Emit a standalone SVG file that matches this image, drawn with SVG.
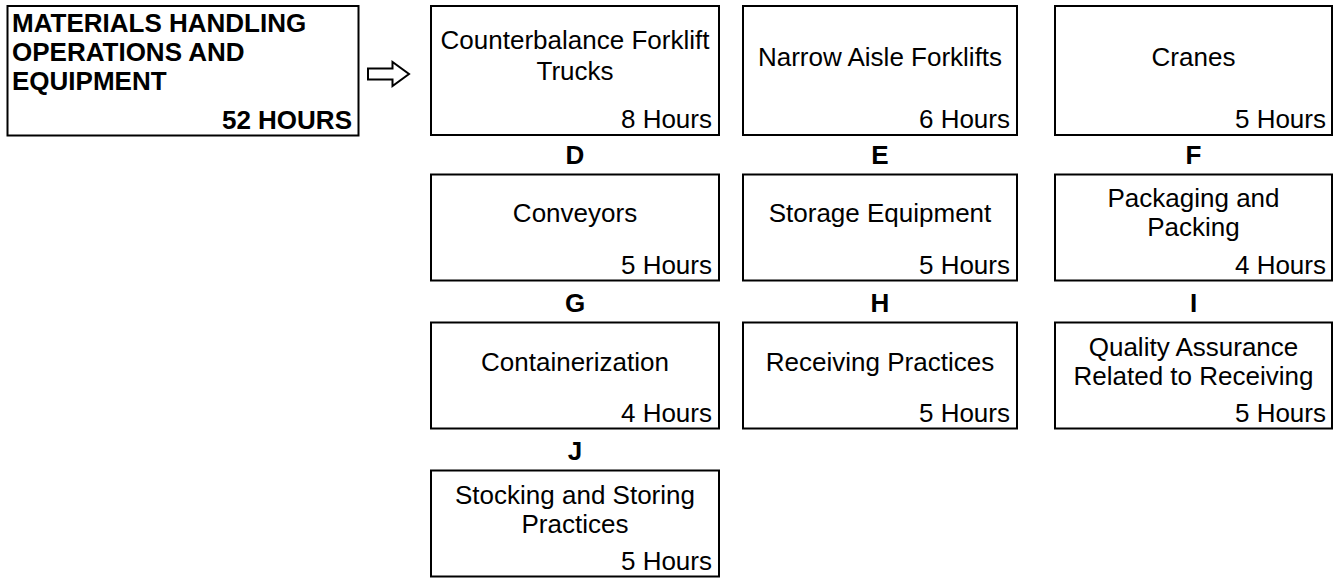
<svg xmlns="http://www.w3.org/2000/svg" width="1339" height="578" viewBox="0 0 1339 578">
<style>
  .box { fill: #ffffff; stroke: #000000; stroke-width: 2; }
  .t { font-family: "Liberation Sans", Arial, sans-serif; font-size: 26px; fill: #000000; }
  .c { text-anchor: middle; }
  .r { text-anchor: end; }
  .b { font-weight: bold; }
  .arrow { fill: #ffffff; stroke: #000000; stroke-width: 2; stroke-linejoin: miter; }
</style>
<rect x="0" y="0" width="1339" height="578" fill="#ffffff"/>

<g id="main">
  <rect class="box" x="7.5" y="6" width="351" height="129.5"/>
  <text class="t b" x="12" y="32">MATERIALS HANDLING</text>
  <text class="t b" x="12" y="61">OPERATIONS AND</text>
  <text class="t b" x="12" y="90">EQUIPMENT</text>
  <text class="t b r" x="352" y="129">52 HOURS</text>
</g>

<g id="connectors">
  <path class="arrow" d="M368,68.5 H392.5 V62 L409,74 L392.5,86 V79.5 H368 Z"/>
</g>

<g id="node-counterbalance">
  <rect class="box" x="431" y="6" width="288" height="129"/>
  <text class="t c" x="575" y="49">Counterbalance Forklift</text>
  <text class="t c" x="575" y="80">Trucks</text>
  <text class="t r" x="712" y="128">8 Hours</text>
</g>

<g id="node-narrow-aisle">
  <rect class="box" x="743" y="6" width="274" height="129"/>
  <text class="t c" x="880" y="66">Narrow Aisle Forklifts</text>
  <text class="t r" x="1010" y="128">6 Hours</text>
</g>

<g id="node-cranes">
  <rect class="box" x="1055" y="6" width="277" height="129"/>
  <text class="t c" x="1193.5" y="66">Cranes</text>
  <text class="t r" x="1326" y="128">5 Hours</text>
</g>

<g id="node-D">
  <text class="t b c" x="575" y="164">D</text>
  <rect class="box" x="431" y="174.5" width="288" height="106"/>
  <text class="t c" x="575" y="222">Conveyors</text>
  <text class="t r" x="712" y="273.5">5 Hours</text>
</g>

<g id="node-E">
  <text class="t b c" x="880" y="164">E</text>
  <rect class="box" x="743" y="174.5" width="274" height="106"/>
  <text class="t c" x="880" y="222">Storage Equipment</text>
  <text class="t r" x="1010" y="273.5">5 Hours</text>
</g>

<g id="node-F">
  <text class="t b c" x="1193.5" y="164">F</text>
  <rect class="box" x="1055" y="174.5" width="277" height="106"/>
  <text class="t c" x="1193.5" y="207">Packaging and</text>
  <text class="t c" x="1193.5" y="236">Packing</text>
  <text class="t r" x="1326" y="273.5">4 Hours</text>
</g>

<g id="node-G">
  <text class="t b c" x="575" y="312">G</text>
  <rect class="box" x="431" y="322.5" width="288" height="106"/>
  <text class="t c" x="575" y="370.5">Containerization</text>
  <text class="t r" x="712" y="421.5">4 Hours</text>
</g>

<g id="node-H">
  <text class="t b c" x="880" y="312">H</text>
  <rect class="box" x="743" y="322.5" width="274" height="106"/>
  <text class="t c" x="880" y="370.5">Receiving Practices</text>
  <text class="t r" x="1010" y="421.5">5 Hours</text>
</g>

<g id="node-I">
  <text class="t b c" x="1193.5" y="312">I</text>
  <rect class="box" x="1055" y="322.5" width="277" height="106"/>
  <text class="t c" x="1193.5" y="356">Quality Assurance</text>
  <text class="t c" x="1193.5" y="385">Related to Receiving</text>
  <text class="t r" x="1326" y="421.5">5 Hours</text>
</g>

<g id="node-J">
  <text class="t b c" x="575" y="460">J</text>
  <rect class="box" x="431" y="470.5" width="288" height="106"/>
  <text class="t c" x="575" y="503.5">Stocking and Storing</text>
  <text class="t c" x="575" y="532.5">Practices</text>
  <text class="t r" x="712" y="569.5">5 Hours</text>
</g>
</svg>
